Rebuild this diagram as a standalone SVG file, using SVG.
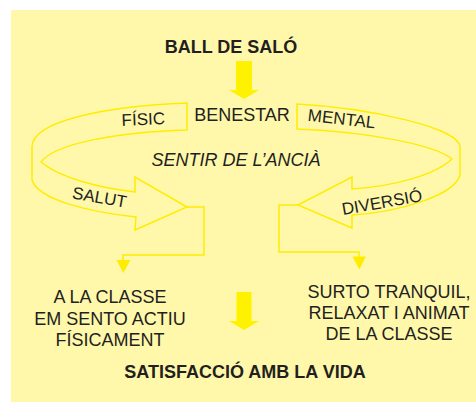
<svg xmlns="http://www.w3.org/2000/svg" width="476" height="403" viewBox="0 0 476 403">
<style>
.bg{fill:#FFF8AB}
.ln{fill:none;stroke:#FFEC00;stroke-width:1.5;stroke-linejoin:miter}
.big{fill:#FFF200}
.hd{fill:#FFEC00}
text{font-family:"Liberation Sans",Arial,sans-serif;fill:#231F20;font-size:18px;text-anchor:middle}
.b{font-weight:bold}
.s{font-size:17px}
.i{font-style:italic}
</style>
<rect class="bg" x="11" y="10" width="465" height="392"/>
<g id="ball-de-salo"><text class="b" x="231" y="53">BALL DE SALÓ</text></g>
<g id="arrow-top"><path class="big" d="M236,61 H252 V90 H259 L244,99 L229,90 H236 Z"/></g>
<g id="benestar"><text x="242" y="121">BENESTAR</text></g>
<g id="loop-left">
<path class="ln" d="M187,103 C110,106 32,120 32,147 L32,180 C38,200 90,212 136,217 L135,230 L187,207 L135,177 L135,192 C100,188 60,178 41,162 C55,143 120,132 187,130 Z"/>
<text class="s" transform="translate(143.5,125) rotate(-2.5)">FÍSIC</text>
<text class="s" transform="translate(98.5,203) rotate(10)">SALUT</text>
</g>
<g id="loop-right">
<path class="ln" d="M297,104 C370,108 460,128 460,147 L460,175 C455,195 400,212 352,215 L352,228 L298,205 L352,177 L352,189 C395,186 435,175 452,159 C435,145 370,132 297,129 Z"/>
<text class="s" transform="translate(341,124.5) rotate(6.5)">MENTAL</text>
<text class="s" transform="translate(383,208) rotate(-10)">DIVERSIÓ</text>
</g>
<g id="sentir"><text class="i" x="236" y="166">SENTIR DE L’ANCIÀ</text></g>
<g id="connectors">
<path class="ln" d="M187,207 H204 V255 H123 V261"/>
<path class="hd" d="M116.5,260 H130.5 L123.3,273 Z"/>
<path class="ln" d="M298,205 H279 V252 H359 V257"/>
<path class="hd" d="M352.5,256.5 H366 L359.3,269.5 Z"/>
</g>
<g id="fisic-text">
<text x="110" y="303">A LA CLASSE</text>
<text x="110" y="325">EM SENTO ACTIU</text>
<text x="110" y="346">FÍSICAMENT</text>
</g>
<g id="mental-text">
<text x="389" y="298">SURTO TRANQUIL,</text>
<text x="389" y="319">RELAXAT I ANIMAT</text>
<text x="389" y="340">DE LA CLASSE</text>
</g>
<g id="arrow-bottom"><path class="big" d="M236.5,292 H251.5 V321 H259 L244,330 L229,321 H236.5 Z"/></g>
<g id="satisfaccio"><text class="b" x="245" y="378">SATISFACCIÓ AMB LA VIDA</text></g>
</svg>
